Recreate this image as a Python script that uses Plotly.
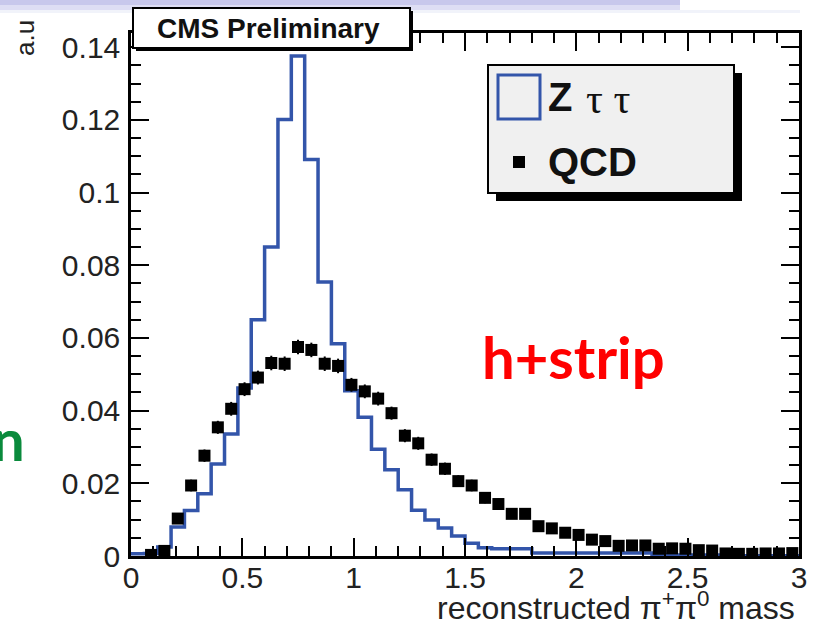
import plotly.graph_objects as go

# ---------------- data ----------------
bin_width = 0.06
n_bins = 50
bin_edges = [round(i * bin_width, 2) for i in range(n_bins + 1)]
bin_centers = [round((i + 0.5) * bin_width, 3) for i in range(n_bins)]

ztautau = [0.0006, 0.0007, 0.0025, 0.0080, 0.0125, 0.0171, 0.0253, 0.0336, 0.0462, 0.0650,
           0.0850, 0.1201, 0.1376, 0.1091, 0.0754, 0.0584, 0.0455, 0.0382, 0.0294, 0.0237,
           0.0182, 0.0126, 0.0099, 0.0077, 0.0055, 0.0035, 0.0023, 0.0020, 0.0020, 0.0020,
           0.0008, 0.0008, 0.0008, 0.0008, 0.0008, 0.0008, 0.0008, 0.0008, 0.0008, 0.0003,
           0.0003, 0.0003, 0.0003, 0.0003, 0.0003, 0.0001, 0.0001, 0.0001, 0.0001, 0.0001]

qcd = [None, 0.0003, 0.0014, 0.0103, 0.0194, 0.0276, 0.0354, 0.0405, 0.0459, 0.0491,
       0.0531, 0.0529, 0.0575, 0.0567, 0.0529, 0.0523, 0.0471, 0.0453, 0.0433, 0.0393,
       0.0331, 0.0310, 0.0265, 0.0240, 0.0206, 0.0194, 0.0160, 0.0143, 0.0116, 0.0116,
       0.0082, 0.0076, 0.0064, 0.0058, 0.0045, 0.0041, 0.0028, 0.0029, 0.0029, 0.0020,
       0.0021, 0.0020, 0.0016, 0.0015, 0.0007, 0.0006, 0.0006, 0.0007, 0.0007, 0.0008]

qcd_err = [None, 0.0005, 0.0008, 0.0014, 0.0016, 0.0017, 0.0018, 0.0019, 0.0019, 0.0019,
           0.0020, 0.0020, 0.0020, 0.0020, 0.0020, 0.0020, 0.0019, 0.0019, 0.0019, 0.0018,
           0.0018, 0.0018, 0.0017, 0.0017, 0.0016, 0.0016, 0.0015, 0.0015, 0.0014, 0.0014,
           0.0013, 0.0013, 0.0012, 0.0012, 0.0012, 0.0011, 0.0011, 0.0011, 0.0011, 0.0010,
           0.0010, 0.0010, 0.0010, 0.0010, 0.0009, 0.0009, 0.0009, 0.0009, 0.0009, 0.0009]

x_tick_vals = [0, 0.5, 1, 1.5, 2, 2.5, 3]
x_tick_text = ["0", "0.5", "1", "1.5", "2", "2.5", "3"]
y_tick_vals = [0, 0.02, 0.04, 0.06, 0.08, 0.1, 0.12, 0.14]
y_tick_text = ["0", "0.02", "0.04", "0.06", "0.08", "0.1", "0.12", "0.14"]

# ---------------- layout geometry (pixels) ----------------
WIDTH, HEIGHT = 820, 630
L, R, T, B = 131, 799, 33, 556
PW, PH = R - L, B - T


def px(x):
    return (x - L) / PW


def py(y):
    return (B - y) / PH


BLUE = "#3355AA"
FONT = "Liberation Sans"

fig = go.Figure()

# Z tau tau step histogram
fig.add_trace(go.Scatter(
    x=bin_edges[:-1] + [bin_edges[-1]],
    y=ztautau + [ztautau[-1]],
    mode="lines",
    line=dict(color=BLUE, width=3.5, shape="hv"),
    showlegend=False,
    hoverinfo="skip",
))

# QCD points
fig.add_trace(go.Scatter(
    x=bin_centers,
    y=qcd,
    mode="markers",
    marker=dict(symbol="square", size=12, color="black"),
    error_y=dict(type="data", array=qcd_err, visible=True, color="black",
                 thickness=2, width=0),
    showlegend=False,
    hoverinfo="skip",
))

shapes = []
annotations = []

# top slide band
shapes.append(dict(type="rect", xref="paper", yref="paper", layer="above",
                   x0=px(0), x1=px(680), y0=py(0), y1=py(5),
                   fillcolor="#c8c8ec", line=dict(width=0)))
shapes.append(dict(type="rect", xref="paper", yref="paper", layer="above",
                   x0=px(0), x1=px(680), y0=py(5), y1=py(10),
                   fillcolor="#dedef4", line=dict(width=0)))
shapes.append(dict(type="rect", xref="paper", yref="paper", layer="above",
                   x0=px(0), x1=px(800), y0=py(10), y1=py(13),
                   fillcolor="#f1f3fa", line=dict(width=0)))

# CMS Preliminary box (shadow + box)
shapes.append(dict(type="rect", xref="paper", yref="paper", layer="above",
                   x0=px(136), x1=px(413), y0=py(11), y1=py(51),
                   fillcolor="black", line=dict(width=0)))
shapes.append(dict(type="rect", xref="paper", yref="paper", layer="above",
                   x0=px(133), x1=px(410), y0=py(8), y1=py(48),
                   fillcolor="white", line=dict(color="black", width=2)))
annotations.append(dict(xref="paper", yref="paper", x=px(268), y=py(28),
                        xanchor="center", yanchor="middle", showarrow=False,
                        text="<b>CMS Preliminary</b>",
                        font=dict(family=FONT, size=28, color="#111")))

# Legend box (shadow + box)
shapes.append(dict(type="rect", xref="paper", yref="paper", layer="above",
                   x0=px(496), x1=px(742), y0=py(73), y1=py(201),
                   fillcolor="black", line=dict(width=0)))
shapes.append(dict(type="rect", xref="paper", yref="paper", layer="above",
                   x0=px(488), x1=px(734), y0=py(65), y1=py(193),
                   fillcolor="#f0f0f0", line=dict(color="black", width=2)))
shapes.append(dict(type="rect", xref="paper", yref="paper", layer="above",
                   x0=px(498), x1=px(540), y0=py(75), y1=py(119),
                   fillcolor="rgba(0,0,0,0)", line=dict(color=BLUE, width=3)))
shapes.append(dict(type="rect", xref="paper", yref="paper", layer="above",
                   x0=px(513), x1=px(525), y0=py(156), y1=py(168),
                   fillcolor="black", line=dict(width=0)))
annotations.append(dict(xref="paper", yref="paper", x=px(546), y=py(97),
                        xanchor="left", yanchor="middle", showarrow=False,
                        text="<b>Z</b>",
                        font=dict(family=FONT, size=40, color="#111")))
annotations.append(dict(xref="paper", yref="paper", x=px(584), y=py(99),
                        xanchor="left", yanchor="middle", showarrow=False,
                        text="τ τ",
                        font=dict(family="Liberation Serif", size=42, color="#111")))
annotations.append(dict(xref="paper", yref="paper", x=px(546), y=py(162),
                        xanchor="left", yanchor="middle", showarrow=False,
                        text="<b>QCD</b>",
                        font=dict(family=FONT, size=40, color="#111")))

# axis titles
annotations.append(dict(xref="paper", yref="paper", x=px(797), y=py(606),
                        xanchor="right", yanchor="middle", showarrow=False,
                        text="reconstructed π<sup>+</sup>π<sup>0</sup> mass",
                        font=dict(family=FONT, size=32, color="#222")))
annotations.append(dict(xref="paper", yref="paper", x=px(25), y=py(18),
                        xanchor="center", yanchor="top", showarrow=False,
                        textangle=-90, text="a.u",
                        font=dict(family=FONT, size=26, color="#222")))

# slide texts
annotations.append(dict(xref="paper", yref="paper", x=px(573), y=py(356),
                        xanchor="center", yanchor="middle", showarrow=False,
                        text="<b>h+strip</b>",
                        font=dict(family="Lato", size=58, color="#ff0000")))
annotations.append(dict(xref="paper", yref="paper", x=px(27), y=py(438),
                        xanchor="right", yanchor="middle", showarrow=False,
                        text="<b>n</b>",
                        font=dict(family="Lato", size=58, color="#0a8a3c")))

axis_common = dict(
    showgrid=False, zeroline=False,
    showline=True, linecolor="black", linewidth=2.5, mirror="allticks",
    ticks="inside", tickcolor="black", tickwidth=2,
    tickfont=dict(family=FONT, size=30, color="#222"),
)

fig.update_layout(
    width=WIDTH, height=HEIGHT,
    margin=dict(l=L, r=WIDTH - R, t=T, b=HEIGHT - B, pad=0),
    paper_bgcolor="white", plot_bgcolor="white",
    font=dict(family=FONT),
    shapes=shapes, annotations=annotations,
    xaxis=dict(range=[0, 3], tickvals=x_tick_vals, ticktext=x_tick_text,
               ticklen=18, ticklabelstandoff=-7,
               minor=dict(ticks="inside", dtick=0.1, ticklen=10, tickwidth=2,
                          tickcolor="black", showgrid=False),
               **axis_common),
    yaxis=dict(range=[0, 0.1439], tickvals=y_tick_vals, ticktext=y_tick_text,
               ticklen=18, ticklabelstandoff=2,
               minor=dict(ticks="inside", dtick=0.005, ticklen=10, tickwidth=2,
                          tickcolor="black", showgrid=False),
               **axis_common),
)

fig.write_html("out.html")
